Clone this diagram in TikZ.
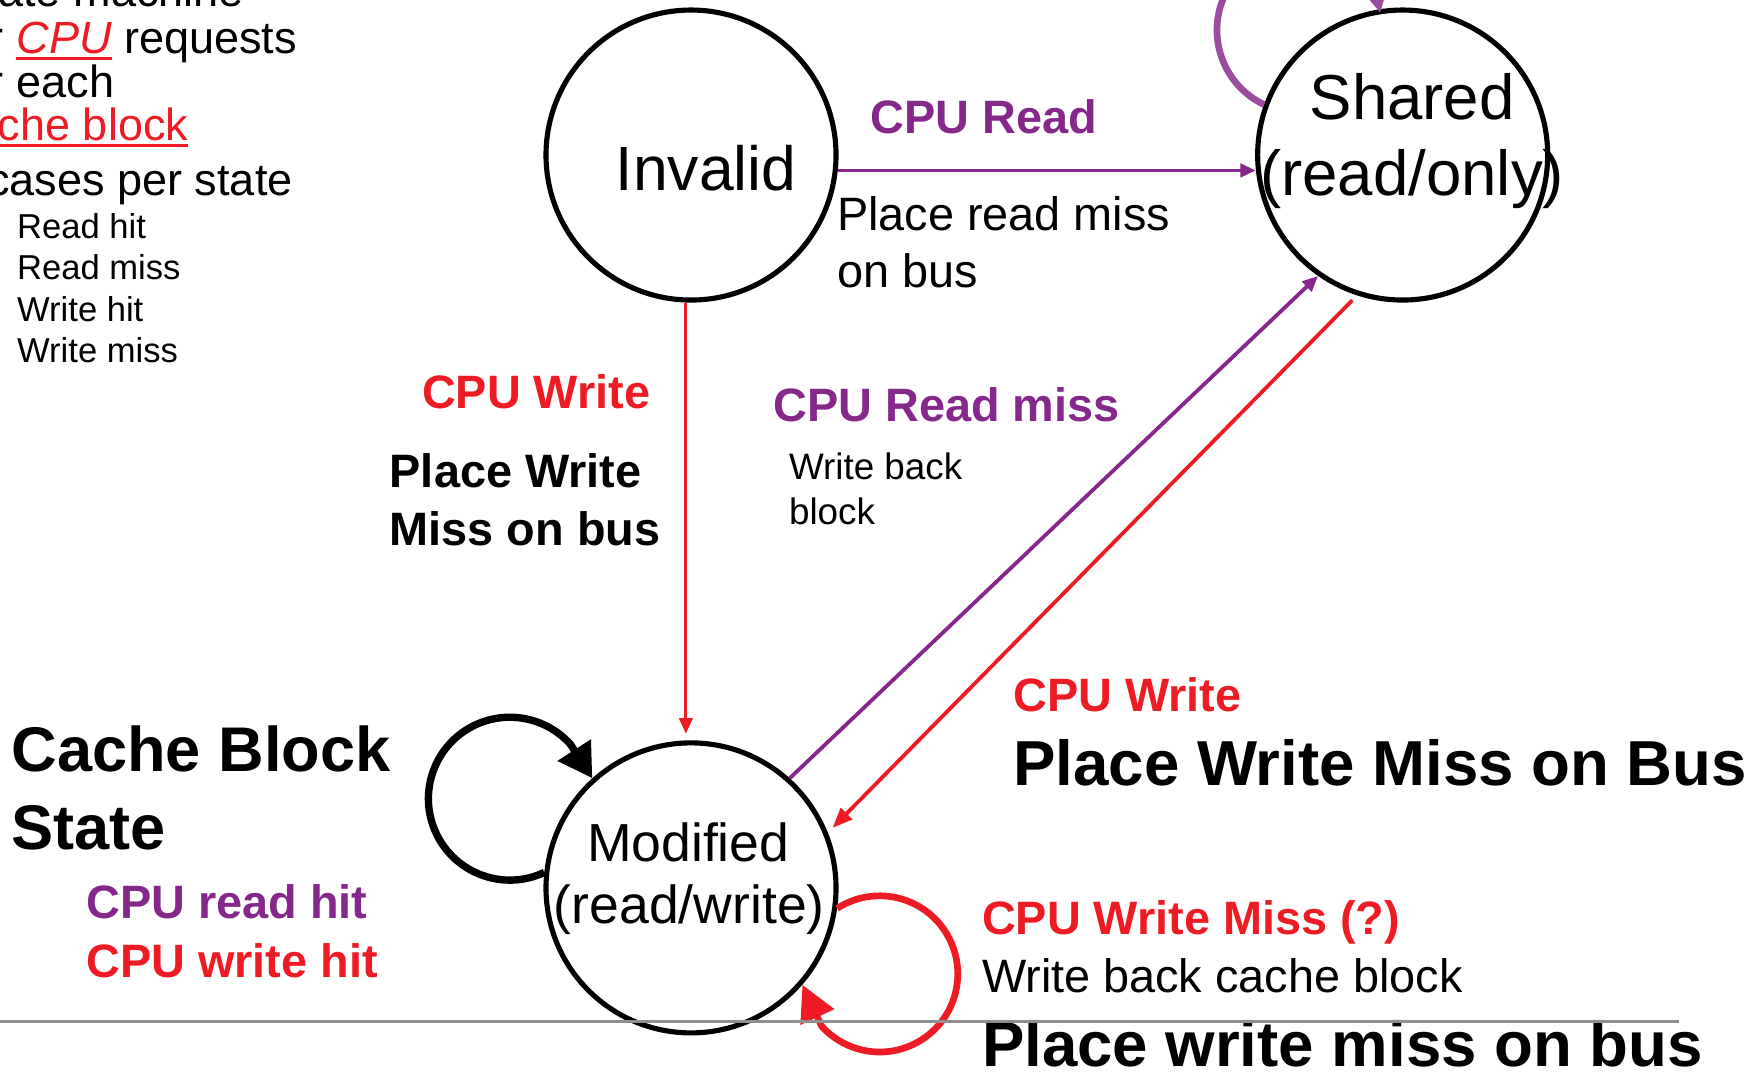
\documentclass[tikz,border=0pt]{standalone}
\usepackage{fontspec}
\setmainfont{Liberation Sans}
\usetikzlibrary{arrows.meta}
\definecolor{cpured}{RGB}{237,28,36}
\definecolor{cpupurple}{RGB}{134,39,140}
\definecolor{looppurple}{RGB}{154,76,158}
\definecolor{rulegrey}{RGB}{143,143,143}
% thick underline used in the top-left notes
\newcommand{\thickul}[1]{\setbox0\hbox{#1}\rlap{\rule[-3pt]{\wd0}{1.4pt}}\box0}
\begin{document}
\begin{tikzpicture}[x=0.5pt,y=0.5pt,
  state/.style={circle,draw,line width=2.3pt,fill=white,minimum size=130pt,inner sep=0pt},
  txt/.style={inner sep=0pt,anchor=base west},
  ctxt/.style={inner sep=0pt,anchor=base},
  fs/.style={font=\fontsize{#1pt}{#1pt}\selectfont},
  fsb/.style={font=\fontsize{#1pt}{#1pt}\selectfont\bfseries},
  thinarrow/.style={line width=1.7pt,-{Triangle[length=7pt,width=6pt]}},
  bigloop/.style={line width=3.3pt,-{Triangle[length=15pt,width=17pt]}},
  redloop/.style={line width=3pt,cpured,-{Triangle[length=16pt,width=16pt]}},
  purpleloop/.style={line width=3pt,looppurple,-{Triangle[length=14pt,width=14pt]}}]
\useasboundingbox (0,0) rectangle (1568,-963);
\begin{scope}
\clip (0,0) rectangle (1568,-963);

% notes at the top left
\node[txt,fs=20.2] (n1) at (-40,-6) {State machine};
\node[txt,fs=20.2] (n2) at (-44,-48) {for \textcolor{cpured}{\thickul{\itshape CPU}} requests};
\node[txt,fs=20.2] (n3) at (-44,-87) {for each};
\node[txt,fs=20.2,text=cpured] (n4) at (-45,-126) {\thickul{cache block}};
\node[txt,fs=20.2] (n5) at (-12,-175) {cases per state};
\node[txt,fs=15.5] (c1) at (15,-214) {Read hit};
\node[txt,fs=15.5] (c2) at (15,-251) {Read miss};
\node[txt,fs=15.5] (c3) at (15,-288) {Write hit};
\node[txt,fs=15.5] (c4) at (15,-325) {Write miss};

% the three states
\node[state] (mod) at (619.5,-796) {};
\node[state] (inv) at (619.5,-139) {};
\node[state] (sh) at (1257.5,-139) {};

% self loops
\draw[purpleloop] (sh.160) arc[start angle=244.5,end angle=12,radius=74];
\draw[bigloop] (mod.174) arc[start angle=-65,end angle=-318,radius=73] -- (mod.132);
\draw[redloop] (mod.-8) arc[start angle=123,end angle=-138,radius=70] -- (mod.-41);

% state labels
\node[ctxt,fs=28] at (633,-171) {Invalid};
\node[ctxt,fs=28.5] at (1266,-107) {Shared};
\node[ctxt,fs=28.5] at (1266,-175) {(read/only)};
\node[ctxt,fs=24] at (617,-772) {Modified};
\node[ctxt,fs=24] at (618,-828) {(read/write)};

% transitions
\draw[thinarrow,cpupurple] (inv.-6) -- (sh.186);
\draw[thinarrow,cpured,line width=1.4pt,shorten >=3pt] (inv.-92.4) -- (mod.92.4);
\draw[thinarrow,cpupurple] (mod.48) -- (sh.235);
\draw[line width=1.7pt,cpured,-{Triangle[length=9pt,width=7pt]},shorten <=3pt,shorten >=3pt] (sh.252) -- (mod.22);

% transition labels
\node[txt,fsb=21,text=cpupurple] (l1) at (780,-120) {CPU Read};
\node[txt,fs=21] (l2) at (750,-207) {Place read miss};
\node[txt,fs=21] (l3) at (750,-258) {on bus};
\node[txt,fsb=21,text=cpured] (l4) at (378,-366) {CPU Write};
\node[txt,fsb=21] (l5) at (349,-437) {Place Write};
\node[txt,fsb=21] (l6) at (349,-489) {Miss on bus};
\node[txt,fsb=21,text=cpupurple] (l7) at (693,-378) {CPU Read miss};
\node[txt,fs=16.5] (l8) at (707,-430) {Write back};
\node[txt,fs=16.5] (l9) at (707,-470) {block};
\node[txt,fsb=21,text=cpured] (l10) at (908,-638) {CPU Write};
\node[txt,fsb=28.5] (l11) at (908,-704) {Place Write Miss on Bus};
\node[txt,fsb=28.3] (l12) at (10,-692) {Cache Block};
\node[txt,fsb=28.3] (l13) at (10,-762) {State};
\node[txt,fsb=21,text=cpupurple] (l14) at (77,-823) {CPU read hit};
\node[txt,fsb=21,text=cpured] (l15) at (77,-876) {CPU write hit};
\node[txt,fsb=21,text=cpured] (l16) at (880,-838) {CPU Write Miss (?)};
\node[txt,fs=21] (l17) at (880,-890) {Write back cache block};
\node[txt,fsb=28.5] (l18) at (880,-956) {Place write miss on bus};

% rule at the bottom
\coordinate (r0) at (0,-916);
\coordinate (r1) at (1505,-916);
\draw[rulegrey,line width=1.5pt] (r0) -- (r1);
\end{scope}
\end{tikzpicture}
\end{document}
